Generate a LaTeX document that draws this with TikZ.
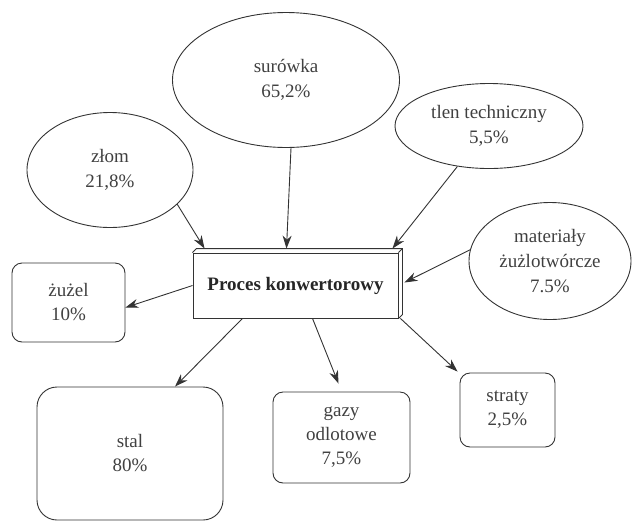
\documentclass[tikz,border=0pt]{standalone}
\usepackage{fontspec}
\setmainfont{Liberation Serif}
\usepackage{tikz}
\usetikzlibrary{arrows.meta,
                shapes.geometric,
                positioning}

\begin{document}
\begin{tikzpicture}[x=1pt, y=-1pt,
   LN/.style = {draw=black!80, line width=0.9pt},
  ELL/.style = {LN, ellipse, inner sep=0pt, align=center,
                text=black!75, font=\fontsize{19}{25}\selectfont},
  BOX/.style = {LN, rounded corners=10pt, inner sep=0pt, align=center,
                text=black!75, font=\fontsize{19}{24}\selectfont},
 PROC/.style = {LN, fill=white, inner sep=0pt,
                minimum width=205pt, minimum height=65pt,
                font=\fontsize{19}{24}\selectfont\bfseries, text=black!85},
  ARR/.style = {draw=black!80, line width=0.9pt,
                -{Stealth[length=13pt,width=9pt]}}
                        ]
\useasboundingbox (0,0) rectangle (634,520);
% inputs
\node (surowka) [ELL, minimum width=227pt, minimum height=135pt]
      at (286,80) {surówka\\65,2\%};
\node (zlom)    [ELL, minimum width=166pt, minimum height=115pt]
      at (110,170) {złom\\21,8\%};
\node (tlen)    [ELL, minimum width=188pt, minimum height=85pt]
      at (489,126) {tlen techniczny\\5,5\%};
\node (mat)     [ELL, minimum width=162pt, minimum height=117pt]
      at (550,261) {materiały\\żużlotwórcze\\7.5\%};
% process
\node (proc)    [PROC] at (295.5,285.5) {Proces konwertorowy};
\draw[LN] (proc.north west) -- ++(4,-4) -- ([shift={(4pt,4pt)}]proc.north east)
          -- ([shift={(4pt,4pt)}]proc.south east) -- (proc.south east);
\draw[LN] (proc.north east) -- ([shift={(4pt,4pt)}]proc.north east);
% outputs
\node (zuzel)   [BOX, minimum width=113pt, minimum height=79pt]
      at (68.5,302.5) {żużel\\10\%};
\node (stal)    [BOX, rounded corners=20pt,
                 minimum width=186pt, minimum height=133pt]
      at (130,453.5) {stal\\80\%};
\node (gazy)    [BOX, minimum width=137pt, minimum height=91pt]
      at (341.5,437.5) {gazy\\odlotowe\\7,5\%};
\node (straty)  [BOX, minimum width=95pt, minimum height=74pt]
      at (507.5,410) {straty\\2,5\%};
% arrows in
\draw[ARR] ([xshift=5pt]surowka.south) -- ([shift={(-9pt,4pt)}]proc.north);
\draw[ARR] (zlom.-27)    -- ([shift={(12pt,4pt)}]proc.north west);
\draw[ARR] (tlen.-128)   -- ([shift={(-6pt,4pt)}]proc.north east);
\draw[ARR] (mat.172)     -- ([shift={(6pt,3pt)}]proc.east);
% arrows out
\draw[ARR] (proc.west)   -- ([yshift=-5pt]zuzel.east);
\draw[ARR] ([xshift=-53pt]proc.south) -- ([xshift=45pt]stal.north);
\draw[ARR] ([xshift=17pt]proc.south)  -- ([shift={(-3pt,8pt)}]gazy.north);
\draw[ARR] ([xshift=2pt]proc.south east) -- ([shift={(-2pt,1pt)}]straty.north west);
\end{tikzpicture}
\end{document}
